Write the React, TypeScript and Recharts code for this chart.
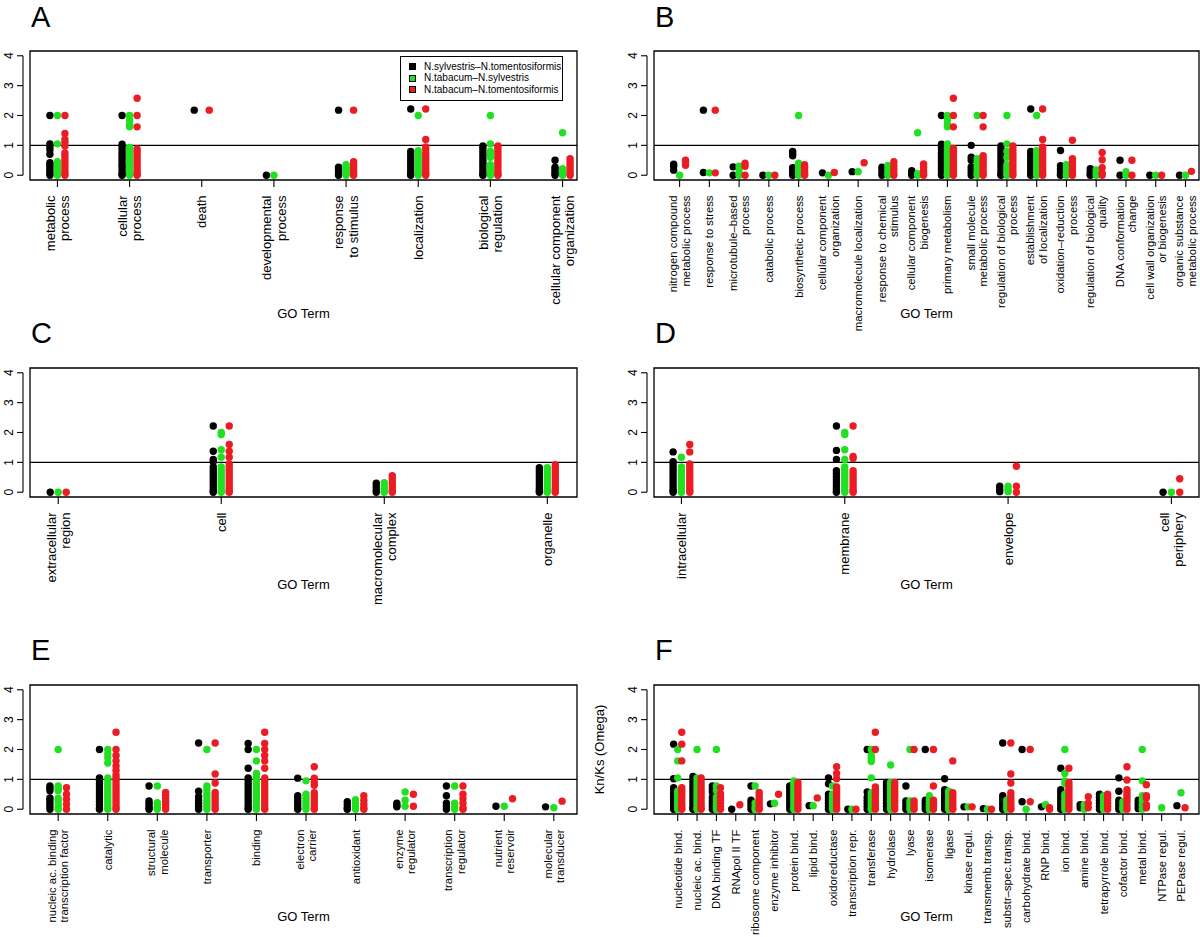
import React from "react";
import { ScatterChart, Scatter, XAxis, YAxis, ReferenceLine, ReferenceArea, Legend } from "recharts";

const FONT = '"Liberation Sans", Arial, Helvetica, sans-serif';

const seriesNames = ["N.sylvestris–N.tomentosiformis", "N.tabacum–N.sylvestris", "N.tabacum–N.tomentosiformis"];
const seriesColors = ["#000000", "#21e021", "#ec1c24"];
const yTicks = [0, 1, 2, 3, 4];
const Y_LO = -0.16;
const Y_HI = 4.16;

// A: biological process
const aCats = [
  ["metabolic", "process"], ["cellular", "process"], ["death"], ["developmental", "process"],
  ["response", "to stimulus"], ["localization"], ["biological", "regulation"], ["cellular component", "organization"],
];
const aBlack = [
  [2.0, 1.05, 0.95, 0.85, 0.7, 0.42, 0.35, 0.28, 0.2, 0.12, 0.05, 0],
  [2.0, 1.04, 0.95, 0.86, 0.76, 0.67, 0.58, 0.48, 0.38, 0.3, 0.2, 0.1, 0.03, 0],
  [2.18],
  [0],
  [2.18, 0.27, 0.2, 0.12, 0.05, 0],
  [2.22, 0.8, 0.7, 0.6, 0.5, 0.4, 0.3, 0.2, 0.1, 0.03, 0],
  [0.98, 0.9, 0.8, 0.7, 0.6, 0.5, 0.4, 0.3, 0.2, 0.1, 0.03, 0],
  [0.5, 0.27, 0.2, 0.12, 0.05, 0],
];
const aGreen = [
  [2.0, 1.05, 0.45, 0.37, 0.28, 0.2, 0.12, 0.05, 0],
  [2.0, 1.85, 1.7, 1.62, 0.93, 0.85, 0.75, 0.65, 0.55, 0.45, 0.35, 0.25, 0.15, 0.05, 0],
  [],
  [0],
  [0.35, 0.27, 0.2, 0.12, 0.05, 0],
  [2.0, 0.82, 0.72, 0.62, 0.52, 0.42, 0.32, 0.22, 0.12, 0.05, 0],
  [2.0, 1.05, 0.8, 0.72, 0.6, 0.35, 0.27, 0.2, 0.12, 0.05, 0],
  [1.42, 0.22, 0.15, 0.08, 0],
];
const aRed = [
  [2.0, 1.4, 1.2, 1.1, 0.98, 0.75, 0.65, 0.55, 0.45, 0.35, 0.25, 0.15, 0.05, 0],
  [2.58, 2.0, 1.62, 0.88, 0.8, 0.7, 0.6, 0.5, 0.4, 0.3, 0.2, 0.1, 0.03, 0],
  [2.18],
  [],
  [2.18, 0.45, 0.35, 0.25, 0.15, 0.05, 0],
  [2.22, 1.2, 0.95, 0.85, 0.72, 0.62, 0.52, 0.42, 0.32, 0.22, 0.12, 0.05, 0],
  [0.98, 0.9, 0.8, 0.7, 0.6, 0.5, 0.4, 0.3, 0.2, 0.1, 0.03, 0],
  [0.55, 0.45, 0.35, 0.25, 0.15, 0.05, 0],
];

// B: biological process, finer terms
const bCats = [
  ["nitrogen compound", "metabolic process"], ["response to stress"], ["microtubule–based", "process"],
  ["catabolic process"], ["biosynthetic process"], ["cellular component", "organization"],
  ["macromolecule localization"], ["response to chemical", "stimulus"], ["cellular component", "biogenesis"],
  ["primary metabolism"], ["small molecule", "metabolic process"], ["regulation of biological", "process"],
  ["establishment", "of localization"], ["oxidation–reduction", "process"], ["regulation of biological", "quality"],
  ["DNA conformation", "change"], ["cell wall organization", "or biogenesis"], ["organic substance", "metabolic process"],
];
const bBlack = [
  [0.37, 0.3, 0.17],
  [2.18, 0.09],
  [0.28, 0],
  [0],
  [0.8, 0.72, 0.65, 0.25, 0.17, 0.08, 0],
  [0.08],
  [0.12],
  [0.27, 0.18, 0.08, 0],
  [0.15, 0.05, 0],
  [2.0, 1.04, 0.95, 0.86, 0.77, 0.68, 0.59, 0.5, 0.41, 0.32, 0.23, 0.14, 0.05, 0],
  [1.0, 0.6, 0.5, 0.28, 0.2, 0.1, 0],
  [0.98, 0.89, 0.8, 0.7, 0.6, 0.5, 0.4, 0.3, 0.2, 0.1, 0.03, 0],
  [2.22, 0.8, 0.7, 0.6, 0.5, 0.4, 0.3, 0.2, 0.1, 0.03, 0],
  [0.83, 0.32, 0.22, 0.12, 0.04, 0],
  [0.22, 0.12, 0.04, 0],
  [0.5, 0],
  [0],
  [0],
];
const bGreen = [
  [0],
  [0.08],
  [0.3, 0.18, 0.05, 0],
  [0],
  [2.0, 0.4, 0.3, 0.2, 0.1, 0],
  [0],
  [0.12],
  [0.33, 0.22, 0.1, 0],
  [1.42, 0.05, 0],
  [2.0, 1.85, 1.7, 1.62, 1.05, 0.92, 0.83, 0.74, 0.65, 0.56, 0.47, 0.38, 0.29, 0.2, 0.11, 0.03, 0],
  [2.0, 0.55, 0.45, 0.35, 0.25, 0.15, 0.05, 0],
  [2.0, 1.05, 0.8, 0.6, 0.35, 0.25, 0.15, 0.05, 0],
  [2.0, 0.82, 0.72, 0.62, 0.52, 0.42, 0.32, 0.22, 0.12, 0.04, 0],
  [0.35, 0.25, 0.15, 0.05, 0],
  [0.18, 0.08, 0],
  [0.12, 0],
  [0],
  [0],
];
const bRed = [
  [0.5, 0.42, 0.33],
  [2.18, 0.08],
  [0.4, 0.3, 0],
  [0],
  [0.35, 0.27, 0.18, 0.1, 0.03, 0],
  [0.09],
  [0.42],
  [0.45, 0.32, 0.2, 0.08, 0],
  [0.38, 0.27, 0.15, 0.05, 0],
  [2.58, 2.0, 1.62, 0.9, 0.8, 0.7, 0.6, 0.5, 0.4, 0.3, 0.2, 0.1, 0.03, 0],
  [2.0, 1.62, 0.65, 0.55, 0.45, 0.35, 0.25, 0.15, 0.05, 0],
  [0.98, 0.88, 0.78, 0.68, 0.58, 0.48, 0.38, 0.28, 0.18, 0.08, 0],
  [2.22, 1.2, 0.95, 0.85, 0.75, 0.65, 0.55, 0.45, 0.35, 0.25, 0.15, 0.05, 0],
  [1.17, 0.55, 0.45, 0.35, 0.25, 0.15, 0.05, 0],
  [0.76, 0.52, 0.25, 0.07, 0],
  [0.5, 0],
  [0],
  [0.13],
];

// C: cellular component
const cCats = [["extracellular", "region"], ["cell"], ["macromolecular", "complex"], ["organelle"]];
const cBlack = [
  [0],
  [2.22, 1.37, 1.1, 1.02, 0.85, 0.75, 0.65, 0.55, 0.45, 0.35, 0.25, 0.15, 0.05, 0],
  [0.3, 0.22, 0.14, 0.06, 0],
  [0.82, 0.72, 0.62, 0.52, 0.42, 0.32, 0.22, 0.12, 0.04, 0],
];
const cGreen = [
  [0],
  [2.0, 1.93, 1.42, 1.17, 0.85, 0.75, 0.65, 0.55, 0.45, 0.35, 0.25, 0.15, 0.05, 0],
  [0.32, 0.22, 0.12, 0.04, 0],
  [0.82, 0.72, 0.62, 0.52, 0.42, 0.32, 0.22, 0.12, 0.04, 0],
];
const cRed = [
  [0],
  [2.22, 1.6, 1.37, 1.17, 0.95, 0.85, 0.75, 0.65, 0.55, 0.45, 0.35, 0.25, 0.15, 0.05, 0],
  [0.55, 0.45, 0.35, 0.25, 0.15, 0.05, 0],
  [0.92, 0.82, 0.72, 0.62, 0.52, 0.42, 0.32, 0.22, 0.12, 0.04, 0],
];

// D: cellular component, finer terms
const dCats = [["intracellular"], ["membrane"], ["envelope"], ["cell", "periphery"]];
const dBlack = [
  [1.35, 1.02, 0.92, 0.82, 0.72, 0.62, 0.52, 0.42, 0.32, 0.22, 0.12, 0.04, 0],
  [2.22, 1.4, 1.1, 0.72, 0.62, 0.52, 0.42, 0.32, 0.22, 0.12, 0.04, 0],
  [0.2, 0.1, 0.02],
  [0],
];
const dGreen = [
  [1.17, 0.85, 0.75, 0.65, 0.55, 0.45, 0.35, 0.25, 0.15, 0.05, 0],
  [2.0, 1.93, 1.42, 1.1, 0.85, 0.75, 0.65, 0.55, 0.45, 0.35, 0.25, 0.15, 0.05, 0],
  [0.2, 0.1, 0.02],
  [0],
];
const dRed = [
  [1.6, 1.35, 0.95, 0.85, 0.75, 0.65, 0.55, 0.45, 0.35, 0.25, 0.15, 0.05, 0],
  [2.22, 1.2, 1.13, 0.72, 0.62, 0.52, 0.42, 0.32, 0.22, 0.12, 0.04, 0],
  [0.87, 0.2, 0],
  [0.45, 0],
];

// E: molecular function
const eCats = [
  ["nucleic ac. binding", "transcription factor"], ["catalytic"], ["structural", "molecule"], ["transporter"],
  ["binding"], ["electron", "carrier"], ["antioxidant"], ["enzyme", "regulator"],
  ["transcription", "regulator"], ["nutrient", "reservoir"], ["molecular", "transducer"],
];
const eBlack = [
  [0.78, 0.7, 0.62, 0.38, 0.3, 0.2, 0.1, 0],
  [2.0, 1.05, 0.95, 0.85, 0.75, 0.65, 0.55, 0.45, 0.35, 0.25, 0.15, 0.05, 0],
  [0.78, 0.28, 0.2, 0.12, 0.04, 0],
  [2.22, 0.6, 0.42, 0.3, 0.2, 0.1, 0],
  [2.2, 2.0, 1.37, 1.05, 0.95, 0.85, 0.75, 0.65, 0.55, 0.45, 0.35, 0.25, 0.15, 0.05, 0],
  [1.04, 0.45, 0.35, 0.25, 0.15, 0.05, 0],
  [0.25, 0.15, 0.05, 0],
  [0.2, 0.12, 0.08],
  [0.78, 0.45, 0.2, 0.1, 0],
  [0.1],
  [0.08],
];
const eGreen = [
  [2.0, 0.78, 0.7, 0.62, 0.37, 0.28, 0.18, 0.08, 0],
  [2.0, 1.85, 1.72, 1.55, 1.05, 0.95, 0.85, 0.75, 0.65, 0.55, 0.45, 0.35, 0.25, 0.15, 0.05, 0],
  [0.78, 0.22, 0.14, 0.06, 0],
  [2.0, 0.78, 0.65, 0.52, 0.42, 0.3, 0.2, 0.1, 0],
  [2.0, 1.62, 1.2, 1.1, 1.0, 0.9, 0.8, 0.7, 0.6, 0.5, 0.4, 0.3, 0.2, 0.1, 0],
  [0.95, 0.5, 0.4, 0.3, 0.2, 0.1, 0],
  [0.32, 0.2, 0.1, 0],
  [0.58, 0.3, 0.1],
  [0.78, 0.2, 0.1, 0],
  [0.1],
  [0.05],
];
const eRed = [
  [0.72, 0.5, 0.33, 0.17, 0],
  [2.58, 2.0, 1.8, 1.62, 1.45, 1.3, 1.15, 1.05, 0.95, 0.85, 0.75, 0.65, 0.55, 0.45, 0.35, 0.25, 0.15, 0.05, 0],
  [0.56, 0.46, 0.36, 0.26, 0.16, 0.06, 0],
  [2.22, 1.18, 0.88, 0.56, 0.46, 0.36, 0.26, 0.16, 0.06, 0],
  [2.58, 2.2, 2.0, 1.8, 1.62, 1.37, 1.05, 0.95, 0.85, 0.75, 0.65, 0.55, 0.45, 0.35, 0.25, 0.15, 0.05, 0],
  [1.42, 1.04, 0.9, 0.8, 0.55, 0.45, 0.35, 0.25, 0.15, 0.05, 0],
  [0.45, 0.3, 0.17, 0.05, 0],
  [0.5, 0.1],
  [0.78, 0.5, 0.35, 0.2, 0.05, 0],
  [0.35],
  [0.27],
];

// F: molecular function, finer terms
const fCats = [
  ["nucleotide bind."], ["nucleic ac. bind."], ["DNA binding TF"], ["RNApol II TF"], ["ribosome component"],
  ["enzyme inhibitor"], ["protein bind."], ["lipid bind."], ["oxidoreductase"], ["transcription repr."],
  ["transferase"], ["hydrolase"], ["lyase"], ["isomerase"], ["ligase"], ["kinase regul."],
  ["transmemb.transp."], ["substr–spec.transp."], ["carbohydrate bind."], ["RNP bind."], ["ion bind."],
  ["amine bind."], ["tetrapyrrole bind."], ["cofactor bind."], ["metal bind."], ["NTPase regul."], ["PEPase regul."],
];
const fBlack = [
  [2.18, 1.02, 0.72, 0.62, 0.52, 0.42, 0.32, 0.22, 0.12, 0.04, 0],
  [1.1, 1.0, 0.9, 0.8, 0.7, 0.6, 0.5, 0.4, 0.3, 0.2, 0.1, 0.03, 0],
  [0.78, 0.68, 0.58, 0.4, 0.3, 0.2, 0.1, 0],
  [0],
  [0.78, 0.3, 0.2, 0.1, 0],
  [0.18],
  [0.78, 0.7, 0.6, 0.5, 0.4, 0.3, 0.2, 0.1, 0],
  [0.12],
  [1.05, 0.85, 0.5, 0.4, 0.3, 0.2, 0.1, 0],
  [0],
  [2.0, 0.58, 0.4, 0.3, 0.2, 0.1, 0],
  [0.9, 0.8, 0.7, 0.6, 0.5, 0.4, 0.3, 0.2, 0.1, 0],
  [0.78, 0.28, 0.18, 0.08, 0],
  [2.0, 0.3, 0.2, 0.1, 0],
  [1.02, 0.65, 0.55, 0.45, 0.35, 0.25, 0.15, 0.05, 0],
  [0.08],
  [0.02],
  [2.22, 0.45, 0.35, 0.25, 0.15, 0.05, 0],
  [2.0, 0.25],
  [0.08],
  [1.37, 0.65, 0.55, 0.45, 0.35, 0.25, 0.15, 0.05, 0],
  [0.15, 0.05],
  [0.5, 0.4, 0.3, 0.2, 0.1, 0],
  [1.05, 0.6, 0.3, 0.2, 0.1, 0],
  [0.3, 0.2, 0.1, 0.02],
  [],
  [0.12],
];
const fGreen = [
  [2.0, 1.62, 1.05, 0.6, 0.5, 0.4, 0.3, 0.2, 0.1, 0],
  [2.0, 1.05, 0.95, 0.85, 0.75, 0.65, 0.55, 0.45, 0.35, 0.25, 0.15, 0.05, 0],
  [2.0, 0.78, 0.62, 0.4, 0.3, 0.2, 0.1, 0],
  [],
  [0.78, 0.2, 0.08, 0],
  [0.2],
  [0.95, 0.85, 0.75, 0.65, 0.55, 0.45, 0.35, 0.25, 0.15, 0.05, 0],
  [0.12],
  [0.78, 0.5, 0.4, 0.3, 0.2, 0.1, 0],
  [0],
  [2.0, 1.8, 1.7, 1.6, 1.05, 0.55, 0.45, 0.35, 0.25, 0.15, 0.05, 0],
  [1.48, 0.9, 0.8, 0.7, 0.6, 0.5, 0.4, 0.3, 0.2, 0.1, 0],
  [2.0, 0.28, 0.18, 0.08, 0],
  [0.45, 0.3, 0.2, 0.1, 0],
  [0.6, 0.5, 0.4, 0.3, 0.2, 0.1, 0],
  [0.08],
  [0],
  [0.3, 0.2, 0.1, 0],
  [0],
  [0.15],
  [2.0, 1.2, 0.95, 0.85, 0.5, 0.4, 0.3, 0.2, 0.1, 0],
  [0.15, 0],
  [0.45, 0.35, 0.25, 0.15, 0.05, 0],
  [0.25, 0.15, 0.05, 0],
  [2.0, 0.95, 0.45, 0.3, 0.15, 0],
  [0.05],
  [0.55],
];
const fRed = [
  [2.58, 2.18, 1.62, 0.72, 0.62, 0.52, 0.42, 0.32, 0.22, 0.12, 0.04, 0],
  [1.05, 0.95, 0.85, 0.75, 0.65, 0.55, 0.45, 0.35, 0.25, 0.15, 0.05, 0],
  [0.72, 0.52, 0.4, 0.3, 0.2, 0.1, 0],
  [0.15],
  [0.56, 0.45, 0.35, 0.25, 0.15, 0.05, 0],
  [0.5],
  [0.9, 0.8, 0.7, 0.6, 0.5, 0.4, 0.3, 0.2, 0.1, 0],
  [0.38],
  [1.42, 1.2, 1.02, 0.75, 0.65, 0.55, 0.45, 0.35, 0.25, 0.15, 0.05, 0],
  [0],
  [2.58, 2.0, 0.75, 0.65, 0.55, 0.45, 0.35, 0.25, 0.15, 0.05, 0],
  [0.9, 0.8, 0.7, 0.6, 0.5, 0.4, 0.3, 0.2, 0.1, 0],
  [2.0, 0.28, 0.18, 0.08, 0],
  [2.0, 0.78, 0.3, 0.2, 0.1, 0],
  [1.62, 0.55, 0.45, 0.35, 0.25, 0.15, 0.05, 0],
  [0.08],
  [0],
  [2.22, 1.18, 0.88, 0.55, 0.45, 0.35, 0.25, 0.15, 0.05, 0],
  [2.0, 0.25],
  [0.05, 0],
  [1.37, 0.9, 0.8, 0.7, 0.6, 0.5, 0.4, 0.3, 0.2, 0.1, 0],
  [0.42, 0.2, 0.05],
  [0.5, 0.4, 0.3, 0.2, 0.1, 0],
  [1.42, 0.98, 0.65, 0.55, 0.45, 0.35, 0.25, 0.12, 0],
  [0.82, 0.45, 0.38, 0.15, 0.05],
  [],
  [0.05],
];

// layout of the 3x2 grid
const PLOT_H = 129;
const M_TOP = 11;
const cols = [
  { left: 0, width: 600, yAxisWidth: 30, marginRight: 23, letterX: 31 },
  { left: 580, width: 620, yAxisWidth: 74, marginRight: 1, letterX: 655 },
];
const rows = [
  { top: 40, height: 310, goBaseline: 138, letterBaseline: 27 },
  { top: 356.5, height: 258, goBaseline: 91.5, letterBaseline: 343 },
  { top: 673.5, height: 263, goBaseline: 106.5, letterBaseline: 660 },
];

const panels = [
  { letter: "A", col: 0, row: 0, cats: aCats, values: [aBlack, aGreen, aRed], domain: [0.62, 8.2], dodge: 0.104, font: 13, legend: true },
  { letter: "B", col: 1, row: 0, cats: bCats, values: [bBlack, bGreen, bRed], domain: [0.14, 18.454], dodge: 0.2, font: 11.3 },
  { letter: "C", col: 0, row: 1, cats: cCats, values: [cBlack, cGreen, cRed], domain: [0.827, 4.182], dodge: 0.049, font: 13 },
  { letter: "D", col: 1, row: 1, cats: dCats, values: [dBlack, dGreen, dRed], domain: [0.832, 4.169], dodge: 0.051, font: 13 },
  { letter: "E", col: 0, row: 2, cats: eCats, values: [eBlack, eGreen, eRed], domain: [0.431, 11.468], dodge: 0.167, font: 11.3 },
  { letter: "F", col: 1, row: 2, cats: fCats, values: [fBlack, fGreen, fRed], domain: [-0.224, 27.93], dodge: 0.21, font: 11.3, ylabel: "Kn/Ks (Omega)" },
];

function LegendBox({ payload }: { payload?: any[] }) {
  const items = payload && payload.length
    ? payload.map((p) => ({ name: p.value, color: p.color }))
    : seriesNames.map((n, i) => ({ name: n, color: seriesColors[i] }));
  return (
    <div style={{ boxSizing: "border-box", border: "1px solid #000", background: "#fff", padding: "4px 3px 5px 8px", fontFamily: FONT, fontSize: 10, lineHeight: "11.4px", color: "#000", width: 163, whiteSpace: "nowrap" }}>
      {items.map((it) => (
        <div key={it.name} style={{ display: "flex", alignItems: "center" }}>
          <span style={{ display: "inline-block", flex: "0 0 auto", boxSizing: "border-box", width: 7, height: 7, background: it.color, border: "1px solid #000", marginRight: 8 }} />
          {it.name}
        </div>
      ))}
    </div>
  );
}

function Panel({ cfg }: { cfg: any }) {
  const c = cols[cfg.col];
  const r = rows[cfg.row];
  const plotLeft = c.yAxisWidth;
  const plotBottom = M_TOP + PLOT_H;
  const xAxisH = r.height - M_TOP - PLOT_H;
  const unit = PLOT_H / (Y_HI - Y_LO);
  const ticks = cfg.cats.map((_: any, i: number) => i + 1);

  const series = cfg.values.map((colsOfValues: number[][], s: number) =>
    colsOfValues.flatMap((vals, i) => vals.map((v) => ({ x: i + 1 + (s - 1) * cfg.dodge, y: v })))
  );

  const renderXTick = (p: any) => {
    const lines: string[] = cfg.cats[p.payload.value - 1] || [];
    const lh = cfg.font * 1.1;
    const cy = plotBottom + 15.5;
    return (
      <g>
        <line x1={p.x} x2={p.x} y1={plotBottom} y2={plotBottom + 7} stroke="#000" strokeWidth={1.1} />
        {lines.map((t, k) => {
          const cx = p.x + (k - (lines.length - 1) / 2) * lh;
          return (
            <text key={k} x={cx} y={cy} transform={`rotate(-90 ${cx} ${cy})`} textAnchor="end" dominantBaseline="central" fontSize={cfg.font} fontFamily={FONT} fill="#000">
              {t}
            </text>
          );
        })}
      </g>
    );
  };

  const renderYTick = (p: any) => {
    const v = p.payload.value;
    const ax = plotLeft - 7;
    const lx = plotLeft - 21;
    return (
      <g>
        {v === 0 && <line x1={ax} x2={ax} y1={p.y} y2={p.y - 4 * unit} stroke="#000" strokeWidth={1.1} />}
        <line x1={ax - 6} x2={ax} y1={p.y} y2={p.y} stroke="#000" strokeWidth={1.1} />
        <text x={lx} y={p.y} transform={`rotate(-90 ${lx} ${p.y})`} textAnchor="middle" dominantBaseline="central" fontSize={12} fontFamily={FONT} fill="#000">
          {v}
        </text>
      </g>
    );
  };

  return (
    <>
      <div style={{ position: "absolute", left: c.letterX, top: r.letterBaseline - 24.5, fontFamily: FONT, fontSize: 29, lineHeight: "29px", color: "#000" }}>
        {cfg.letter}
      </div>
      <div style={{ position: "absolute", left: c.left, top: r.top }}>
        <ScatterChart width={c.width} height={r.height} margin={{ top: M_TOP, right: c.marginRight, bottom: 0, left: 0 }}>
          <XAxis
            type="number"
            dataKey="x"
            domain={cfg.domain}
            ticks={ticks}
            interval={0}
            allowDataOverflow
            axisLine={false}
            tickLine={false}
            height={xAxisH}
            tick={renderXTick}
            label={{ value: "GO Term", position: "insideBottom", offset: xAxisH - r.goBaseline, fontSize: 13, fill: "#000", fontFamily: FONT }}
          />
          <YAxis
            type="number"
            dataKey="y"
            domain={[Y_LO, Y_HI]}
            ticks={yTicks}
            interval={0}
            allowDataOverflow
            width={c.yAxisWidth}
            axisLine={false}
            tickLine={false}
            tick={renderYTick}
            label={cfg.ylabel ? { value: cfg.ylabel, angle: -90, position: "insideLeft", offset: 19, fontSize: 13, fill: "#000", fontFamily: FONT, style: { textAnchor: "middle" } } : undefined}
          />
          <ReferenceArea x1={cfg.domain[0]} x2={cfg.domain[1]} y1={Y_LO} y2={Y_HI} fill="none" fillOpacity={0} stroke="#000" strokeWidth={1.3} ifOverflow="visible" />
          <ReferenceLine y={1} stroke="#000" strokeWidth={1.3} />
          {series.map((data: any[], s: number) => (
            <Scatter
              key={s}
              name={seriesNames[s]}
              data={data}
              fill={seriesColors[s]}
              isAnimationActive={false}
              shape={(p: any) => <circle cx={p.cx} cy={p.cy} r={3.7} fill={seriesColors[s]} />}
            />
          ))}
          {cfg.legend && (
            <Legend
              layout="vertical"
              align="center"
              verticalAlign="middle"
              wrapperStyle={{ left: 400, top: 16, width: 163 }}
              content={(props: any) => <LegendBox payload={props.payload} />}
            />
          )}
        </ScatterChart>
      </div>
    </>
  );
}

export default function App() {
  return (
    <div style={{ position: "absolute", left: 0, top: 0, width: 1200, height: 937, background: "#fff", overflow: "hidden", fontFamily: FONT }}>
      {panels.map((p) => (
        <Panel key={p.letter} cfg={p} />
      ))}
    </div>
  );
}
